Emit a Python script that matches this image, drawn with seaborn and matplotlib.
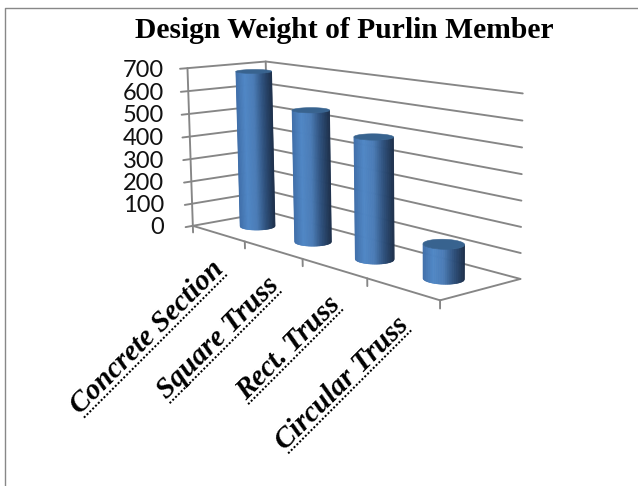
import numpy as np
import matplotlib
matplotlib.use("Agg")
import matplotlib.pyplot as plt
from matplotlib.collections import PolyCollection
from matplotlib.font_manager import FontProperties
from matplotlib.patches import Polygon
from matplotlib.textpath import TextPath
import seaborn as sns

# Chart content
categories = ["Concrete Section", "Square Truss", "Rect. Truss", "Circular Truss"]
weights = [686, 557, 492, 133]
value_ticks = [0, 100, 200, 300, 400, 500, 600, 700]
title = "Design Weight of Purlin Member"

VALUE_MAX = 700
GRID = "#868686"

sns.set_style("white")
fig = plt.figure(figsize=(6.38, 4.86), dpi=100)
ax = fig.add_axes([0, 0, 1, 1])
ax.set_xlim(0, 638)
ax.set_ylim(486, 0)
ax.axis("off")


def px(n):
    """Line width in points for a width given in pixels."""
    return n * 72 / fig.dpi


# Perspective camera fitted from the corners of the plot box:
# (category fraction, depth, value fraction) -> canvas position.
box_corners = [
    ((0, 0, 0), (192, 226)), ((1, 0, 0), (440, 299)), ((1, 1, 0), (520, 280)),
    ((0, 1, 0), (270, 211)), ((0, 0, 1), (188, 68)), ((0, 1, 1), (265, 62)),
    ((1, 1, 1), (523, 93)), ((0.5, 0, 0), (303, 260)),
]


def fit_camera(pairs):
    rows, rhs = [], []
    for (X, Y, Z), (x, y) in pairs:
        rows.append([X, Y, Z, 1, 0, 0, 0, 0, -x * X, -x * Y, -x * Z])
        rhs.append(x)
        rows.append([0, 0, 0, 0, X, Y, Z, 1, -y * X, -y * Y, -y * Z])
        rhs.append(y)
    p = np.linalg.lstsq(np.array(rows, float), np.array(rhs, float), rcond=None)[0]
    return np.append(p, 1.0).reshape(3, 4)


camera = fit_camera(box_corners)


def project(u, v, value):
    u, v, value = np.broadcast_arrays(u, v, value)
    world = np.stack([u, v, np.asarray(value) / VALUE_MAX, np.ones(u.shape)], axis=-1)
    h = world @ camera.T
    return h[..., :2] / h[..., 2:3]


def segment(a, b, width=1.9):
    pts = project(*np.array([a, b], float).T)
    ax.plot(pts[:, 0], pts[:, 1], color=GRID, lw=px(width), solid_capstyle="round")


# Gridlines run along the side wall and then across the back wall
for t in value_ticks:
    pts = project([0, 0, 1], [-0.09, 1, 1], [t, t, t])
    ax.plot(pts[:, 0], pts[:, 1], color=GRID, lw=px(1.9), solid_joinstyle="miter")

# Box edges
segment((0, 0, 0), (0, 0, VALUE_MAX))
segment((0, 1, 0), (0, 1, VALUE_MAX))
segment((0, 0, 0), (1, 0, 0))
segment((1, 0, 0), (1, 1, 0))

# Category tick marks point straight down from the front edge
n_cat = len(categories)
for i in range(n_cat + 1):
    segment((i / n_cat, 0, 0), (i / n_cat, 0, -30))

# Value labels
for t in value_ticks:
    y = project(0, 0, t)[1]
    ax.text(164, y + 2, str(t), ha="right", va="center",
            family="Lato", fontsize=17, color="#111111")

# Cylinders, shaded from the left edge to the right edge
shade = sns.blend_palette(["#3f6ea8", "#5087c6", "#4b7cb6", "#2e507c", "#1d304b"], as_cmap=True)
R_U, R_V = 0.051, 0.18
theta = np.linspace(0, 2 * np.pi, 241)
strips = np.linspace(0, 1, 61)


def front_arc(ring, centre_y):
    """Front half of a projected ring, resampled evenly across its width."""
    near = ring[ring[:, 1] >= centre_y]
    near = near[np.argsort(near[:, 0])]
    xs = ring[:, 0].min() + strips * (ring[:, 0].max() - ring[:, 0].min())
    return np.column_stack([xs, np.interp(xs, near[:, 0], near[:, 1])])


for i, value in enumerate(weights):
    cu, cv = (i + 0.5) / n_cat, 0.5
    ring_u = cu + R_U * np.cos(theta)
    ring_v = cv + R_V * np.sin(theta)
    base = project(ring_u, ring_v, 0 * theta)
    top = project(ring_u, ring_v, value + 0 * theta)
    lower = front_arc(base, project(cu, cv, 0)[1])
    upper = front_arc(top, project(cu, cv, value)[1])
    quads = [[lower[k], lower[k + 1], upper[k + 1], upper[k]] for k in range(len(strips) - 1)]
    colors = shade(0.5 * (strips[:-1] + strips[1:]))
    ax.add_collection(PolyCollection(quads, facecolors=colors, edgecolors=colors,
                                     linewidths=0.4, zorder=3))
    ax.add_patch(Polygon(top, closed=True, facecolor="#38638f", edgecolor="#38638f",
                         linewidth=0.4, zorder=4))

# Slanted category labels with a dotted rule beneath each one
LABEL_SIZE = 21
label_font = FontProperties(family="Liberation Serif", weight="bold", style="italic", size=LABEL_SIZE)
diag = np.array([np.cos(np.pi / 4), -np.sin(np.pi / 4)])
for i, name in enumerate(categories):
    foot = project((i + 0.5) / n_cat, 0, 0)
    end = foot + np.array([9, 41])
    ax.text(end[0] - 2, end[1] - 4, name, rotation=45, rotation_mode="anchor",
            ha="right", va="baseline", fontproperties=label_font, color="black", zorder=5)
    extent = TextPath((0, 0), name, prop=label_font).get_extents()
    start = end - diag * extent.width * fig.dpi / 72
    ax.plot([start[0], end[0]], [start[1], end[1]], color="black", lw=px(2),
            linestyle=(0, (1, 1)), dash_capstyle="butt", zorder=5)

ax.text(344, 31, title, ha="center", va="center", family="Liberation Serif",
        weight="bold", fontsize=21.3, color="black")

# Chart frame on the top and left sides
ax.plot([638, 4.5, 4.5], [8.5, 8.5, 486], color="#888888", lw=px(1.4), clip_on=False)

fig.savefig("out.png", dpi=100, facecolor="white")
